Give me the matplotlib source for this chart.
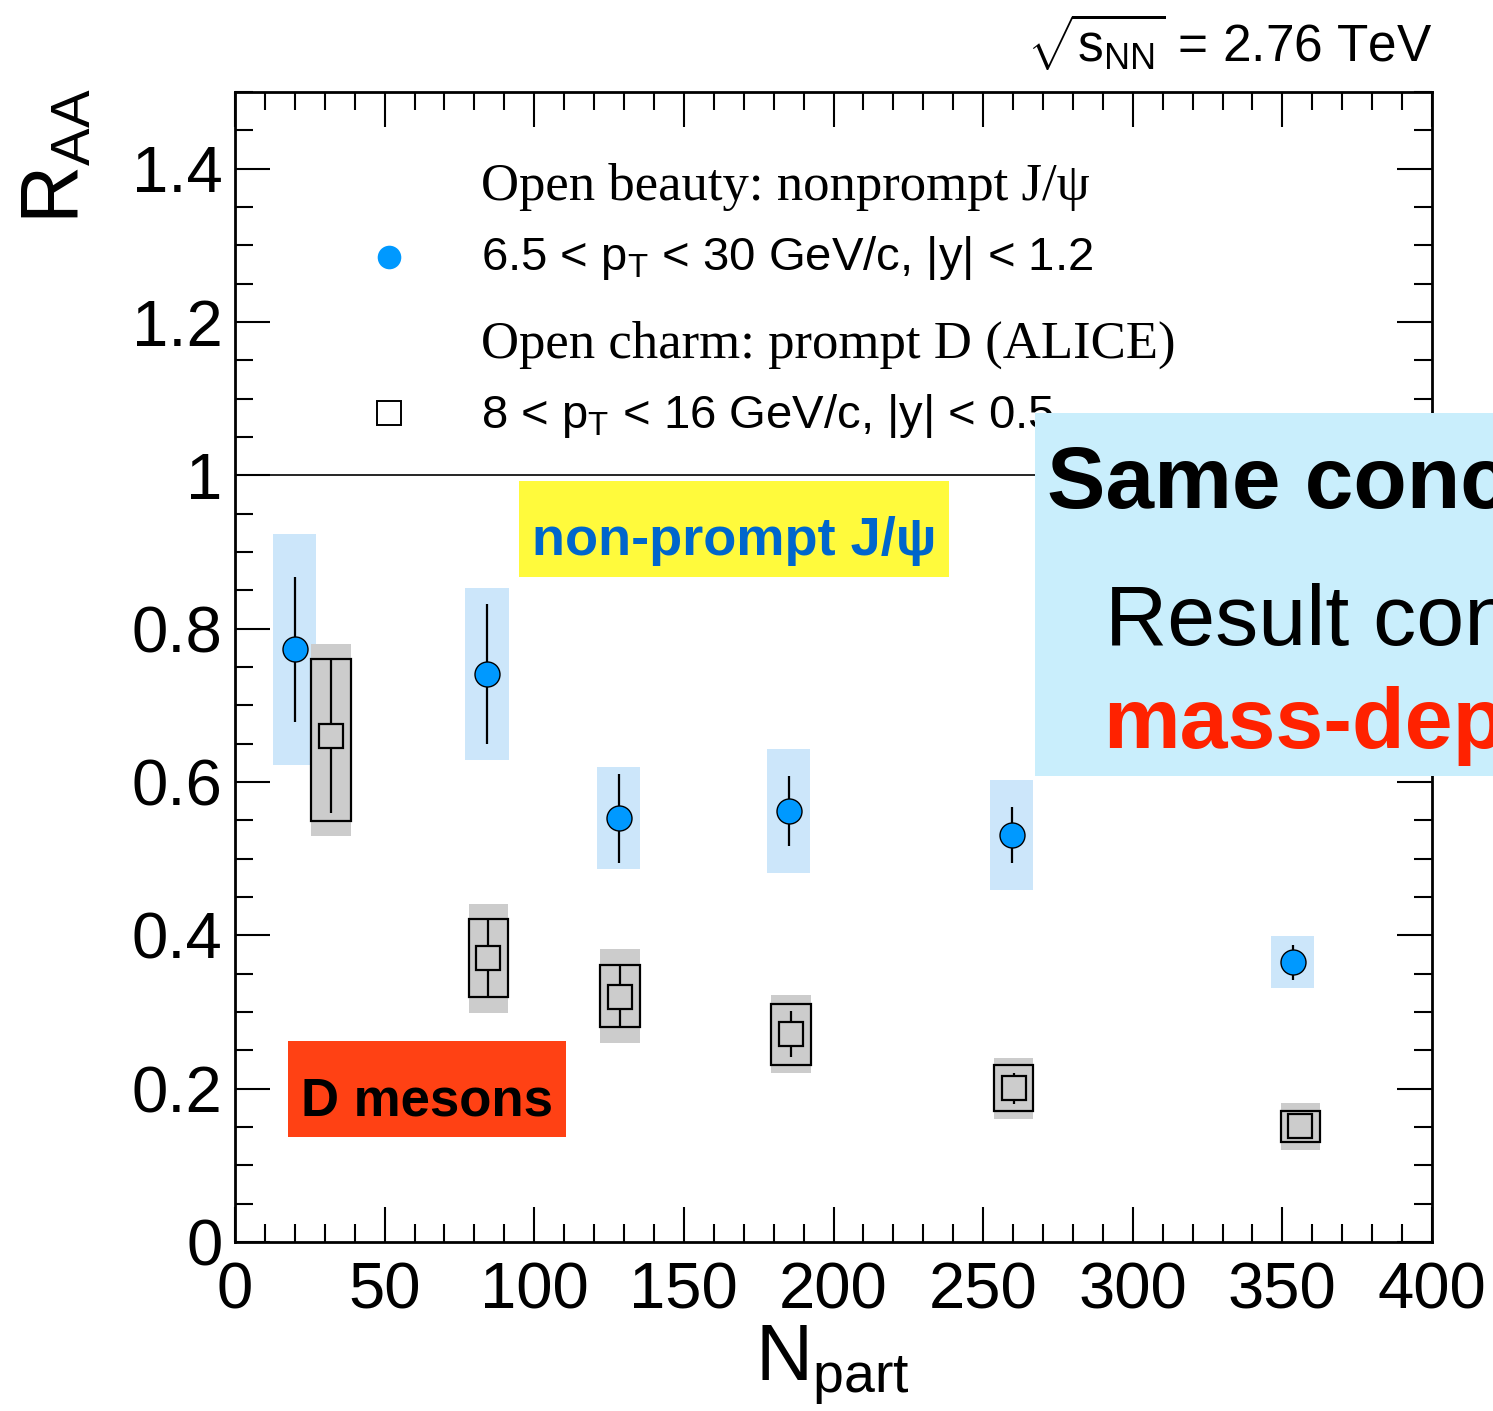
import matplotlib
matplotlib.use("Agg")
import matplotlib.pyplot as plt
from matplotlib.patches import Rectangle
from matplotlib.ticker import MultipleLocator, FixedLocator, FixedFormatter

plt.rcParams['font.family'] = ['Liberation Sans', 'DejaVu Sans']
plt.rcParams['mathtext.fontset'] = 'custom'
plt.rcParams['mathtext.rm'] = 'Liberation Sans'
plt.rcParams['mathtext.it'] = 'Liberation Sans:italic'
plt.rcParams['mathtext.bf'] = 'Liberation Sans:bold'

# Non-prompt J/psi (open beauty), CMS
npart_jpsi = [20.0, 84.2, 128.3, 185.1, 259.6, 353.5]
raa_jpsi = [0.773, 0.741, 0.553, 0.562, 0.531, 0.365]
stat_jpsi = [0.095, 0.091, 0.058, 0.046, 0.037, 0.023]
syst_jpsi = [0.151, 0.112, 0.066, 0.081, 0.072, 0.034]

# Prompt D mesons (open charm), ALICE
npart_d = [32.1, 84.7, 128.6, 185.8, 260.2, 356.0]
raa_d = [0.660, 0.370, 0.320, 0.271, 0.2005, 0.151]
stat_d = [0.100, 0.051, 0.041, 0.030, 0.020, 0.010]
syst_d_hi = [0.100, 0.051, 0.041, 0.040, 0.030, 0.020]
syst_d_lo = [0.111, 0.051, 0.040, 0.040, 0.030, 0.021]
norm_d_hi = [0.120, 0.071, 0.062, 0.051, 0.040, 0.030]
norm_d_lo = [0.130, 0.071, 0.061, 0.051, 0.040, 0.031]

ytick_vals = [0, 0.2, 0.4, 0.6, 0.8, 1.0, 1.2, 1.4]
ytick_labels = ['0', '0.2', '0.4', '0.6', '0.8', '1', '1.2', '1.4']
xtick_vals = [0, 50, 100, 150, 200, 250, 300, 350, 400]

W, H = 1493, 1411
fig = plt.figure(figsize=(W / 100, H / 100), dpi=100)


def fx(px):
    return px / W


def fy(py):
    return 1 - py / H


ax = fig.add_axes([fx(235), fy(1242), fx(1432) - fx(235), fy(92) - fy(1242)])
ax.set_xlim(0, 400)
ax.set_ylim(0, 1.5)

BLUE_BOX = '#cce6fa'
GRAY = '#cccccc'
jpsi_hw = 7.2
d_hw = 6.6

# unity line
ax.axhline(1.0, color='black', lw=1.2, zorder=1)

# J/psi systematic boxes
for x, y, s in zip(npart_jpsi, raa_jpsi, syst_jpsi):
    ax.add_patch(Rectangle((x - jpsi_hw, y - s), 2 * jpsi_hw, 2 * s,
                           facecolor=BLUE_BOX, edgecolor='none', zorder=2))

# D meson boxes: outer grey band and outlined systematic box
for x, y, lo, hi in zip(npart_d, raa_d, norm_d_lo, norm_d_hi):
    ax.add_patch(Rectangle((x - d_hw, y - lo), 2 * d_hw, lo + hi,
                           facecolor=GRAY, edgecolor='none', zorder=2.5))
for x, y, lo, hi in zip(npart_d, raa_d, syst_d_lo, syst_d_hi):
    ax.add_patch(Rectangle((x - d_hw, y - lo), 2 * d_hw, lo + hi,
                           facecolor=GRAY, edgecolor='black', lw=1.6, zorder=3))

# statistical error bars
ax.errorbar(npart_jpsi, raa_jpsi, yerr=stat_jpsi, fmt='none', ecolor='black',
            elinewidth=1.6, capsize=0, zorder=4)
ax.errorbar(npart_d, raa_d, yerr=stat_d, fmt='none', ecolor='black',
            elinewidth=1.6, capsize=0, zorder=4)

# markers
ax.plot(npart_jpsi, raa_jpsi, 'o', ms=18, mfc='#0099ff', mec='black', mew=1.0, zorder=5)
ax.plot(npart_d, raa_d, 's', ms=17, mfc=GRAY, mec='black', mew=1.6, zorder=5)

# axes styling
for sp in ax.spines.values():
    sp.set_linewidth(2.0)
ax.xaxis.set_major_locator(FixedLocator(xtick_vals))
ax.xaxis.set_minor_locator(MultipleLocator(10))
ax.yaxis.set_major_locator(FixedLocator(ytick_vals))
ax.yaxis.set_major_formatter(FixedFormatter(ytick_labels))
ax.yaxis.set_minor_locator(MultipleLocator(0.05))
ax.tick_params(which='both', direction='in', top=True, right=True, width=1.5)
ax.tick_params(which='major', length=25, labelsize=47)
ax.tick_params(which='minor', length=13)
ax.tick_params(axis='x', which='major', pad=14)
ax.tick_params(axis='y', which='major', pad=9)

# axis titles
fig.text(fx(57), fy(88), r'$\mathrm{R}_{\mathrm{AA}}$', rotation=90,
         ha='center', va='top', fontsize=58)
fig.text(fx(832), fy(1380), r'$\mathrm{N}_{\mathrm{part}}$', ha='center',
         va='baseline', fontsize=57)

# energy label
fig.text(fx(1432), fy(63), r'$\sqrt{\mathrm{s}_{\mathrm{NN}}}$ = 2.76 TeV',
         ha='right', va='baseline', fontsize=37)

# legend
serif = ['Liberation Serif', 'DejaVu Serif']
fig.text(fx(481), fy(200), 'Open beauty: nonprompt J/ψ', family=serif,
         fontsize=38, va='baseline', ha='left', zorder=3)
fig.text(fx(481), fy(270), r'6.5 < p$_{\mathrm{T}}$ < 30 GeV/c, |y| < 1.2',
         fontsize=34, va='baseline', ha='left', zorder=3)
fig.text(fx(481), fy(358), 'Open charm: prompt D (ALICE)', family=serif,
         fontsize=38, va='baseline', ha='left', zorder=3)
fig.text(fx(481), fy(428), r'8 < p$_{\mathrm{T}}$ < 16 GeV/c, |y| < 0.5',
         fontsize=34, va='baseline', ha='left', zorder=3)
ax.plot([(389 - 235) / 1197], [(1242 - 257) / 1150], 'o', ms=17, mfc='#0099ff',
        mec='none', transform=ax.transAxes, clip_on=False, zorder=6)
ax.plot([(389 - 235) / 1197], [(1242 - 413) / 1150], 's', ms=17, mfc='white',
        mec='black', mew=1.4, transform=ax.transAxes, clip_on=False, zorder=6)

# highlighted labels
fig.add_artist(Rectangle((fx(519), fy(577)), fx(949) - fx(519), fy(481) - fy(577),
                         transform=fig.transFigure, facecolor='#fffa3c',
                         edgecolor='none', zorder=5))
fig.text(fx(734), fy(555), 'non-prompt J/ψ', ha='center', va='baseline',
         fontsize=39, fontweight='bold', color='#0066cc', zorder=6)

fig.add_artist(Rectangle((fx(288), fy(1137)), fx(566) - fx(288), fy(1041) - fy(1137),
                         transform=fig.transFigure, facecolor='#ff4114',
                         edgecolor='none', zorder=5))
fig.text(fx(427), fy(1115), 'D mesons', ha='center', va='baseline',
         fontsize=38, fontweight='bold', color='black', zorder=6)

fig.add_artist(Rectangle((fx(1035), fy(776)), fx(1520) - fx(1035), fy(413) - fy(776),
                         transform=fig.transFigure, facecolor='#c9eefc',
                         edgecolor='none', zorder=5))
fig.text(fx(1047), fy(508), 'Same conclusion', ha='left', va='baseline',
         fontsize=63, fontweight='bold', color='black', zorder=6)
fig.text(fx(1105), fy(645), 'Result consistent with', ha='left', va='baseline',
         fontsize=62, color='black', zorder=6)
fig.text(fx(1103), fy(748), 'mass-dependent', ha='left', va='baseline',
         fontsize=62, fontweight='bold', color='#ff2200', zorder=6)

fig.savefig('out.png', dpi=100)
